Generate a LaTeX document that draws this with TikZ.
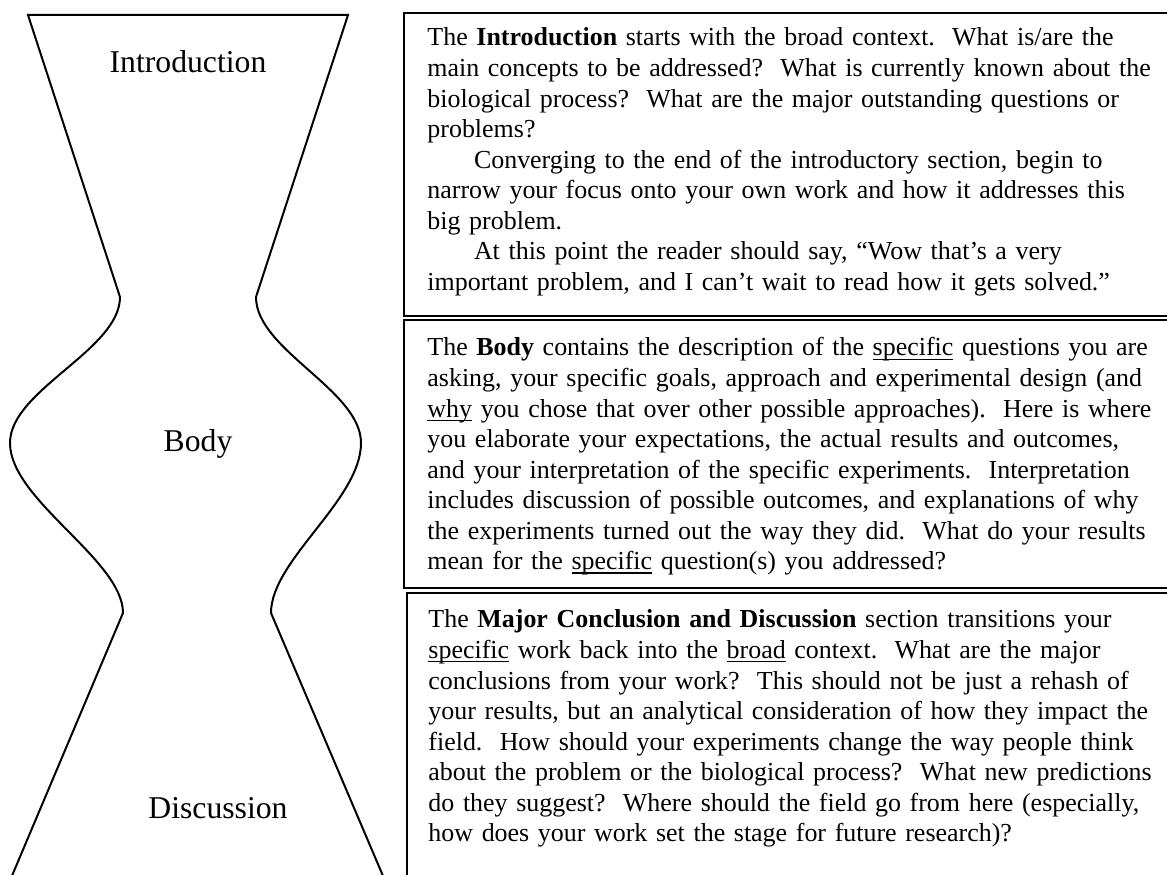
\documentclass[tikz,border=0pt]{standalone}
\usepackage{fontspec}
\setmainfont{Liberation Serif}
\usetikzlibrary{positioning}
\newcommand{\ulword}[1]{\leavevmode\setbox0\hbox{#1}\rlap{\rule[-1.8pt]{\wd0}{0.5pt}}\box0\relax}

\begin{document}
\begin{tikzpicture}[
    x=0.451pt, y=-0.451pt,
    outline/.style={draw=black, line width=0.9pt},
    panel/.style={draw=black, line width=0.9pt},
    partname/.style={anchor=base, inner sep=0pt, font=\fontsize{14.3}{16}\selectfont},
    paneltext/.style={anchor=base west, inner sep=0pt, text width=720pt, align=left, font=\fontsize{11.7}{13.76}\selectfont\frenchspacing}
]
\useasboundingbox (0,0) rectangle (1167,875);

\draw[outline] (6,890) -- (123,613)
    .. controls (123,560) and (10,500) .. (10,443)
    .. controls (10,390) and (120,350) .. (120,297)
    -- (28,15) -- (348,15) -- (256,297)
    .. controls (256,350) and (361,390) .. (361,443)
    .. controls (361,500) and (271,560) .. (271,613)
    -- (389,890);

\node[partname] (introlabel) at (188,73) {Introduction};
\node[partname] (bodylabel) at (198,452) {Body};
\node[partname] (disclabel) at (218,819) {Discussion};

\draw[panel] (404,13) rectangle (1180,316);
\draw[panel] (404,320) rectangle (1180,588);
\draw[panel] (407,593) rectangle (1180,890);

\node[paneltext] (introtext) at (427,46) {The \textbf{Introduction} starts with the broad context.~ What is/are the\\
main concepts to be addressed?~ What is currently known about the\\
biological process?~ What are the major outstanding questions or\\
problems?\\
\hspace*{21pt}Converging to the end of the introductory section, begin to\\
narrow your focus onto your own work and how it addresses this\\
big problem.\\
\hspace*{21pt}At this point the reader should say, ``Wow that's a very\\
important problem, and I can't wait to read how it gets solved.''};

\node[paneltext] (bodytext) at (427,356) {The \textbf{Body} contains the description of the \ulword{specific} questions you are\\
asking, your specific goals, approach and experimental design (and\\
\ulword{why} you chose that over other possible approaches).~ Here is where\\
you elaborate your expectations, the actual results and outcomes,\\
and your interpretation of the specific experiments.~ Interpretation\\
includes discussion of possible outcomes, and explanations of why\\
the experiments turned out the way they did.~ What do your results\\
mean for the \ulword{specific} question(s) you addressed?};

\node[paneltext] (disctext) at (428,628) {The \textbf{Major Conclusion and Discussion} section transitions your\\
\ulword{specific} work back into the \ulword{broad} context.~ What are the major\\
conclusions from your work?~ This should not be just a rehash of\\
your results, but an analytical consideration of how they impact the\\
field.~ How should your experiments change the way people think\\
about the problem or the biological process?~ What new predictions\\
do they suggest?~ Where should the field go from here (especially,\\
how does your work set the stage for future research)?};
\end{tikzpicture}
\end{document}
